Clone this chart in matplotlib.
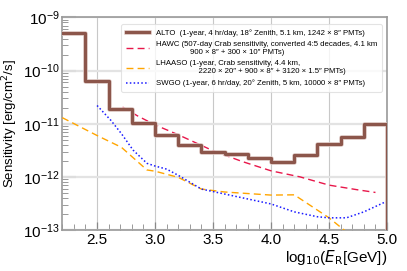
import matplotlib
matplotlib.use("Agg")
import matplotlib.pyplot as plt
import matplotlib.patheffects as pe
from matplotlib.ticker import MultipleLocator, LogLocator, NullFormatter, FixedLocator

plt.rcParams['font.family'] = ['Liberation Sans', 'DejaVu Sans']

# ALTO binned sensitivity (bin edges in log10 E, one value per bin)
alto_edges = [2.2, 2.4, 2.6, 2.8, 3.0, 3.2, 3.4, 3.6, 3.8, 4.0, 4.2, 4.4, 4.6, 4.8, 5.0]
alto_vals = [5.0e-10, 6.3e-11, 1.9e-11, 1.02e-11, 6.1e-12, 4.0e-12, 3.0e-12,
             2.7e-12, 2.3e-12, 1.87e-12, 2.6e-12, 4.1e-12, 5.6e-12, 1.0e-11]

hawc_x = [2.72, 2.85, 3.0, 3.13, 3.2, 3.5, 3.75, 4.0, 4.25, 4.5, 4.75, 4.9]
hawc_y = [2.05e-11, 1.4e-11, 9.5e-12, 7.2e-12, 6.2e-12, 3.1e-12, 1.95e-12,
          1.3e-12, 1.0e-12, 7.0e-13, 5.7e-13, 5.1e-13]

lhaaso_x = [2.2, 2.5, 2.71, 2.93, 3.0, 3.2, 3.4, 3.6, 4.0, 4.2, 4.5, 4.63, 4.7]
lhaaso_y = [1.3e-11, 6.0e-12, 3.6e-12, 1.35e-12, 1.28e-12, 9.8e-13, 5.9e-13,
            5.2e-13, 4.55e-13, 4.6e-13, 1.7e-13, 1.0e-13, 8.0e-14]

swgo_x = [2.5, 2.62, 2.71, 2.81, 2.93, 3.0, 3.1, 3.2, 3.4, 3.5, 4.0, 4.2, 4.4,
          4.5, 4.65, 4.8, 5.0]
swgo_y = [2.2e-11, 1.15e-11, 6.5e-12, 3.2e-12, 1.8e-12, 1.6e-12, 1.4e-12,
          1.07e-12, 5.9e-13, 5.3e-13, 3.1e-13, 2.2e-13, 1.78e-13, 1.7e-13,
          1.7e-13, 2.2e-13, 3.5e-13]

y_ticks = [1e-13, 1e-12, 1e-11, 1e-10, 1e-9]
x_ticks = [2.5, 3.0, 3.5, 4.0, 4.5, 5.0]

labels = [
    "ALTO  (1-year, 4 hr/day, 18° Zenith, 5.1 km, 1242 × 8″ PMTs)",
    "HAWC (507-day Crab sensitivity, converted 4:5 decades, 4.1 km\n"
    "                900 × 8″ + 300 × 10″ PMTs)",
    "LHAASO (1-year, Crab sensitivity, 4.4 km,\n"
    "                    2220 × 20″ + 900 × 8″ + 3120 × 1.5″ PMTs)",
    "SWGO (1-year, 6 hr/day, 20° Zenith, 5 km, 10000 × 8″ PMTs)",
]

fig = plt.figure(figsize=(4.07, 2.71), dpi=100)
ax = fig.add_axes([0.153, 0.151, 0.798, 0.785])

# step line, dropping down at the right end
ax.step(alto_edges, alto_vals + [1e-14], where='post', color='#8c564b',
        lw=2.3, label=labels[0], zorder=5,
        path_effects=[pe.Stroke(linewidth=3.3, foreground='#e2cfcb'), pe.Normal()])
ax.plot(hawc_x, hawc_y, color='#e8174a', lw=1.0, dashes=(5, 3), label=labels[1], zorder=4)
ax.plot(lhaaso_x, lhaaso_y, color='#ffa500', lw=1.0, dashes=(5, 3), label=labels[2], zorder=4)
ax.plot(swgo_x, swgo_y, color='#1a1aff', lw=1.1, ls=(0, (1, 1.5)), label=labels[3], zorder=4)

ax.set_yscale('log')
ax.set_xlim(2.2, 5.0)
ax.set_ylim(1e-13, 1e-9)

ax.xaxis.set_major_locator(FixedLocator(x_ticks))
ax.xaxis.set_minor_locator(MultipleLocator(0.1))
ax.yaxis.set_major_locator(FixedLocator(y_ticks))
ax.yaxis.set_minor_locator(LogLocator(base=10, subs=range(2, 10)))
ax.yaxis.set_minor_formatter(NullFormatter())

ax.grid(True, which='major', axis='x', color='#c8c8c8', lw=0.8)
ax.grid(True, which='major', axis='y', color='#e3e3e3', lw=1.6)
ax.set_axisbelow(True)

ax.tick_params(which='major', direction='in', length=10, width=1.6, color='#dddddd',
               labelsize=11, pad=2)
ax.tick_params(which='minor', direction='in', length=4, width=0.7, color='#999999')
ax.tick_params(axis='x', which='major', color='#888888', length=6, width=0.9)
for s in ax.spines.values():
    s.set_color('#999999')
    s.set_linewidth(1.2)

ax.set_ylabel('Sensitivity [erg/cm$^2$/s]', fontsize=9.5, labelpad=2)
ax.set_xlabel(r'log$_{10}$($E_{\mathrm{R}}$[GeV])', fontsize=11, loc='right', labelpad=1)

leg = ax.legend(loc='upper right', fontsize=5.6, frameon=True, handlelength=3.0,
                borderpad=0.6, labelspacing=0.55, bbox_to_anchor=(0.995, 0.985))
leg.get_frame().set_edgecolor('#dddddd')
leg.get_frame().set_linewidth(0.8)

fig.savefig('out.png', dpi=100)
